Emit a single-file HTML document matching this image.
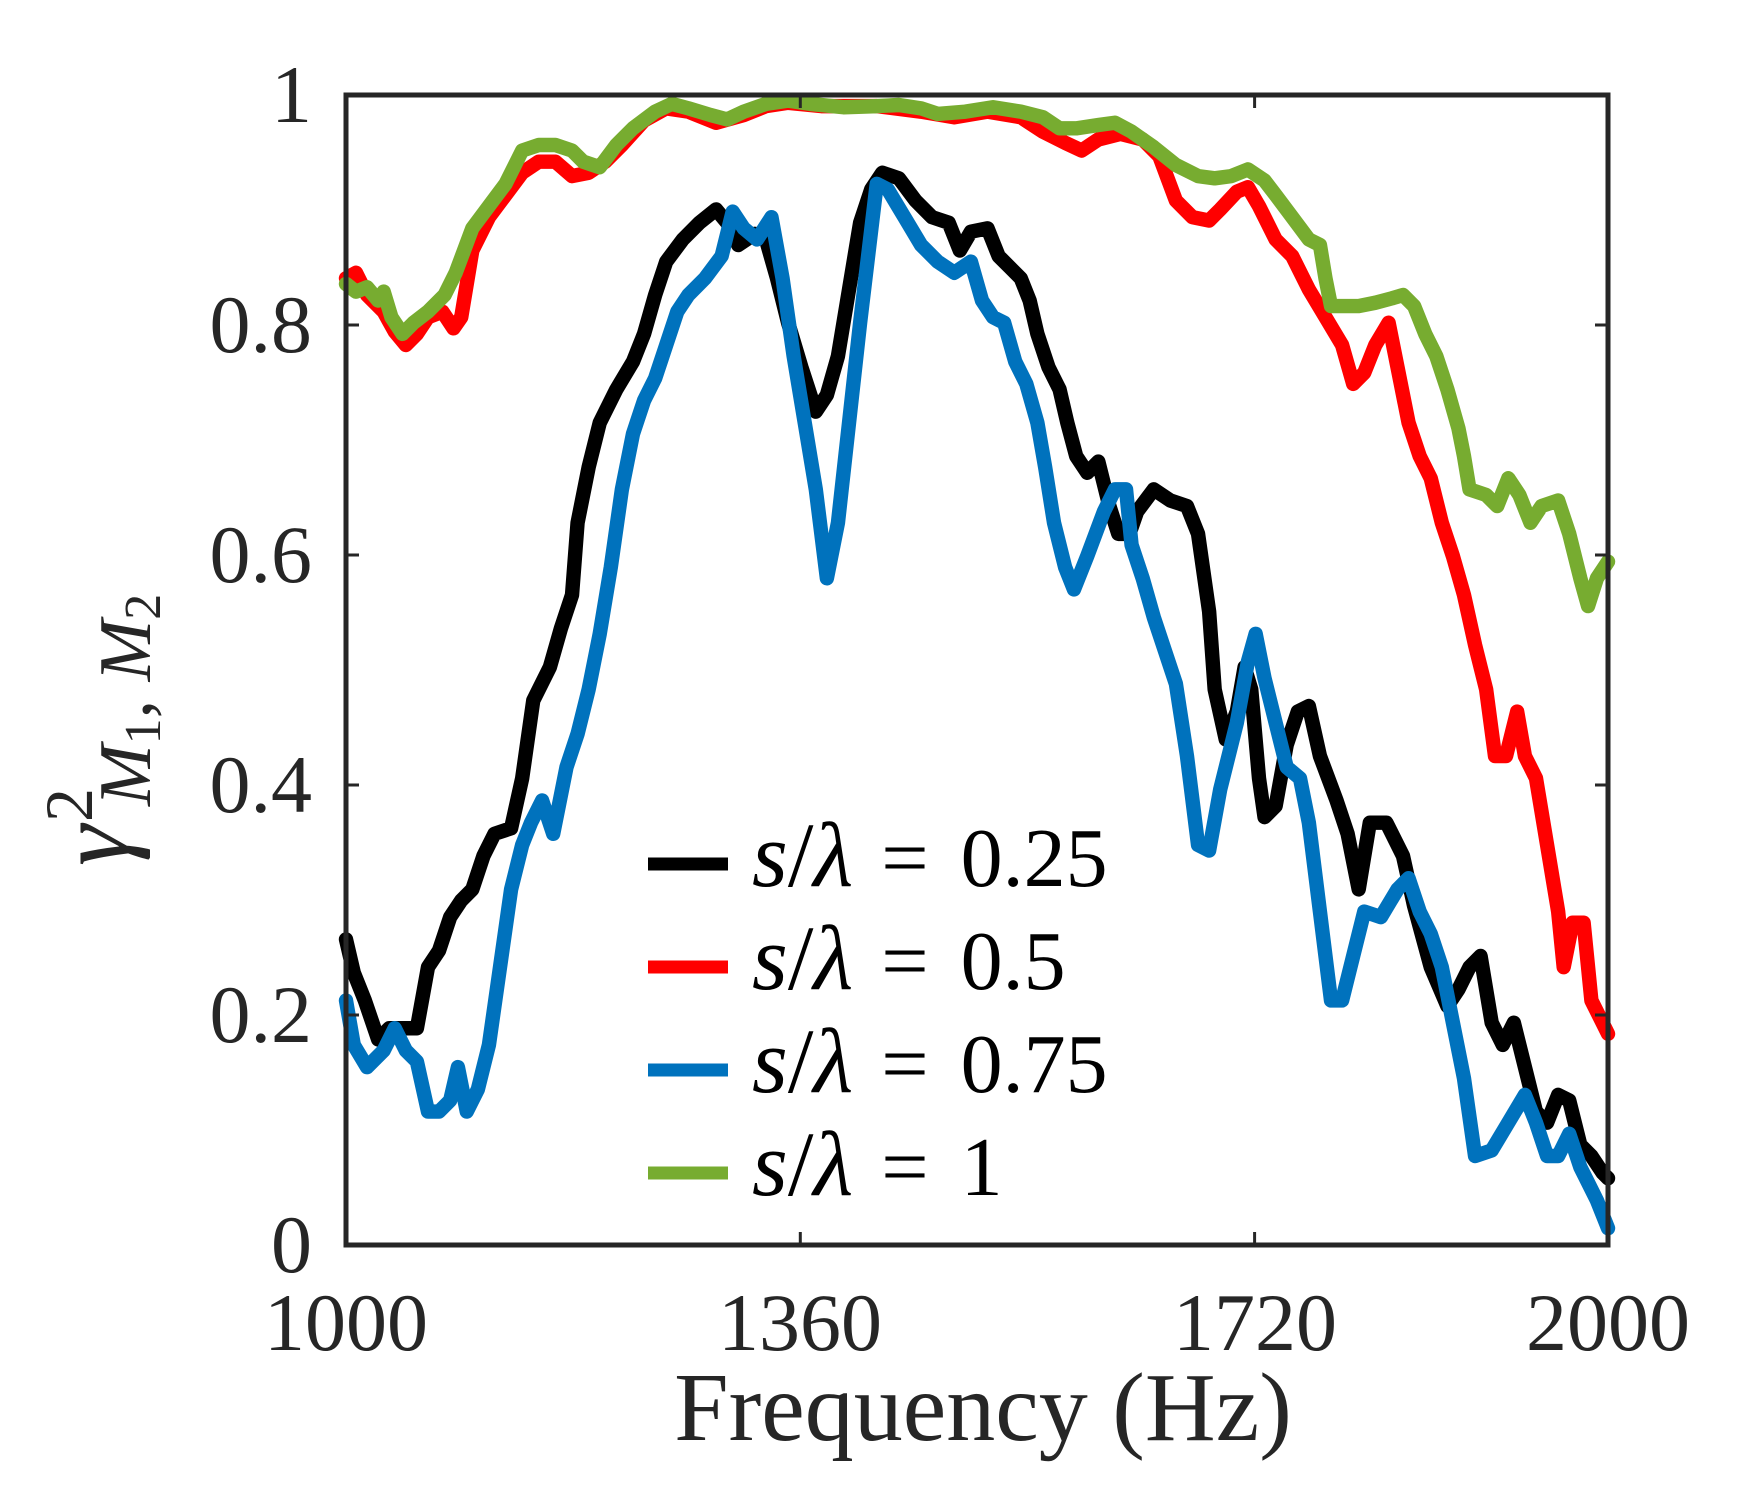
<!DOCTYPE html>
<html><head><meta charset="utf-8"><style>
html,body{margin:0;padding:0;background:#fff;}
svg{display:block;}
text{font-family:"Liberation Serif","DejaVu Serif",serif;fill:#262626;}
</style></head><body>
<svg width="1738" height="1500" viewBox="0 0 1738 1500" xmlns="http://www.w3.org/2000/svg">
<rect width="1738" height="1500" fill="#fff"/>
<g transform="translate(346,95) scale(1.108,1.111) translate(-311,-85)" fill="none" stroke-width="13" stroke-linejoin="round" stroke-linecap="round">
<polyline stroke="#ff0000" points="311,250 320,245 330,265 345,280 355,298 365,310 375,300 385,285 398,280 408,295 415,285 425,225 440,195 455,175 470,155 485,145 500,145 515,158 530,155 545,145 560,130 580,108 600,97 620,100 645,110 670,103 690,95 710,92 740,95 790,95 830,100 860,105 890,100 920,105 940,118 960,128 975,135 990,125 1010,120 1030,125 1045,140 1060,180 1075,195 1090,198 1100,188 1115,172 1125,168 1135,185 1150,215 1165,230 1180,260 1195,285 1210,310 1220,345 1230,335 1240,310 1252,290 1260,330 1270,380 1280,410 1290,430 1300,470 1310,500 1320,535 1330,580 1340,620 1348,680 1358,680 1368,640 1375,680 1385,700 1395,760 1405,820 1410,870 1418,830 1428,830 1435,900 1445,920 1450,930"/>
<polyline stroke="#77ac30" points="311,255 320,262 330,258 340,270 345,262 352,285 362,300 372,290 385,280 400,265 410,245 425,205 440,185 455,165 470,135 485,130 500,130 515,135 525,145 540,150 555,130 570,115 590,100 605,93 620,97 640,103 655,107 670,100 690,93 710,90 730,93 760,96 790,95 810,94 830,97 845,102 870,100 895,96 920,100 940,105 955,115 970,115 990,112 1005,110 1020,118 1040,132 1060,148 1080,158 1095,160 1110,158 1125,152 1140,162 1150,175 1165,195 1180,215 1190,220 1195,250 1200,275 1210,275 1225,275 1240,272 1255,268 1265,265 1275,275 1285,300 1295,320 1305,350 1315,385 1320,410 1325,440 1340,445 1350,455 1360,430 1370,445 1380,470 1390,455 1405,450 1415,480 1425,520 1432,545 1440,520 1450,505"/>
<polyline stroke="#000000" points="311,845 318,875 328,900 340,935 350,925 365,925 375,925 385,870 395,855 405,825 415,810 425,800 435,770 445,750 460,745 470,700 480,630 495,600 505,565 515,535 520,470 530,420 540,380 555,350 570,325 580,300 590,265 600,235 615,215 630,200 645,188 655,200 665,220 680,210 690,215 700,250 710,290 722,330 735,370 745,355 755,320 765,260 775,200 785,170 795,155 810,160 825,180 840,195 855,200 865,225 875,208 890,205 900,230 910,240 920,250 928,270 935,300 945,330 955,350 962,380 970,410 980,425 990,415 1000,455 1008,480 1018,480 1025,460 1040,440 1055,450 1070,455 1080,480 1090,550 1095,620 1105,665 1115,640 1122,600 1128,620 1135,700 1140,735 1150,725 1160,670 1170,640 1180,635 1190,680 1205,720 1215,750 1225,800 1235,740 1250,740 1265,770 1275,815 1290,870 1305,905 1315,890 1325,870 1335,860 1345,920 1355,940 1365,920 1375,960 1385,1000 1395,1010 1405,985 1415,990 1425,1030 1435,1040 1445,1055 1450,1060"/>
<polyline stroke="#0072bd" points="311,900 318,940 330,960 345,945 355,925 365,945 375,955 385,1000 395,1000 405,990 412,960 420,1000 430,980 440,940 450,870 460,800 470,760 478,740 488,720 498,750 510,690 520,660 530,620 540,570 550,510 560,440 570,390 580,360 590,340 600,310 610,280 620,265 635,250 650,230 660,190 670,205 682,215 695,195 705,250 715,320 725,380 735,440 745,520 755,470 765,380 775,290 790,165 800,170 815,195 830,220 845,235 860,245 875,235 885,270 895,285 905,290 915,325 925,345 935,380 942,420 950,470 960,510 968,530 980,500 995,460 1005,440 1015,440 1020,490 1030,520 1040,555 1050,585 1060,615 1070,680 1080,760 1090,765 1100,710 1115,650 1125,595 1132,570 1140,610 1150,650 1160,690 1172,700 1180,740 1190,820 1200,900 1210,900 1220,860 1230,820 1245,825 1260,800 1270,790 1280,820 1290,840 1300,870 1310,920 1320,970 1330,1040 1345,1035 1360,1010 1375,985 1385,1010 1395,1040 1405,1040 1415,1020 1425,1050 1440,1080 1450,1105"/>
</g>
<rect x="346" y="95" width="1262" height="1150" fill="none" stroke="#262626" stroke-width="5"/>
<g stroke="#262626" stroke-width="3">
<line x1="800.3" y1="1245" x2="800.3" y2="1232"/><line x1="800.3" y1="95" x2="800.3" y2="108"/>
<line x1="1254.6" y1="1245" x2="1254.6" y2="1232"/><line x1="1254.6" y1="95" x2="1254.6" y2="108"/>
<line x1="346" y1="1015" x2="359" y2="1015"/><line x1="1608" y1="1015" x2="1595" y2="1015"/>
<line x1="346" y1="785" x2="359" y2="785"/><line x1="1608" y1="785" x2="1595" y2="785"/>
<line x1="346" y1="555" x2="359" y2="555"/><line x1="1608" y1="555" x2="1595" y2="555"/>
<line x1="346" y1="325" x2="359" y2="325"/><line x1="1608" y1="325" x2="1595" y2="325"/>
</g>
<g font-size="82" text-anchor="end">
<text x="312" y="1272">0</text>
<text x="312" y="1042">0.2</text>
<text x="312" y="812">0.4</text>
<text x="312" y="582">0.6</text>
<text x="312" y="352">0.8</text>
<text x="312" y="122">1</text>
</g>
<g font-size="82" text-anchor="middle">
<text x="346" y="1350">1000</text>
<text x="800" y="1350">1360</text>
<text x="1255" y="1350">1720</text>
<text x="1608" y="1350">2000</text>
</g>
<text x="983" y="1440" font-size="98" text-anchor="middle">Frequency (Hz)</text>
<g transform="translate(150,706) rotate(-90)">
<text x="-160" y="-22" font-size="104" font-style="italic">γ</text>
<text x="-116" y="-58" font-size="68">2</text>
<text x="-100" y="0" font-size="74"><tspan font-style="italic">M</tspan><tspan font-size="52" dy="10">1</tspan><tspan dy="-10">, </tspan><tspan font-style="italic">M</tspan><tspan font-size="52" dy="10">2</tspan></text>
</g>
<g stroke-width="13">
<line x1="648" y1="864" x2="728" y2="864" stroke="#000"/>
<line x1="648" y1="967" x2="728" y2="967" stroke="#ff0000"/>
<line x1="648" y1="1070" x2="728" y2="1070" stroke="#0072bd"/>
<line x1="648" y1="1173" x2="728" y2="1173" stroke="#77ac30"/>
</g>
<g font-size="84">
<text x="752" y="886" style="fill:#000"><tspan font-style="italic" font-size="92">s</tspan><tspan font-size="92">/</tspan><tspan font-style="italic" font-size="92">λ</tspan><tspan dx="28">=</tspan><tspan dx="32">0.25</tspan></text>
<text x="752" y="989" style="fill:#000"><tspan font-style="italic" font-size="92">s</tspan><tspan font-size="92">/</tspan><tspan font-style="italic" font-size="92">λ</tspan><tspan dx="28">=</tspan><tspan dx="32">0.5</tspan></text>
<text x="752" y="1092" style="fill:#000"><tspan font-style="italic" font-size="92">s</tspan><tspan font-size="92">/</tspan><tspan font-style="italic" font-size="92">λ</tspan><tspan dx="28">=</tspan><tspan dx="32">0.75</tspan></text>
<text x="752" y="1195" style="fill:#000"><tspan font-style="italic" font-size="92">s</tspan><tspan font-size="92">/</tspan><tspan font-style="italic" font-size="92">λ</tspan><tspan dx="28">=</tspan><tspan dx="32">1</tspan></text>
</g>
</svg>
</body></html>
